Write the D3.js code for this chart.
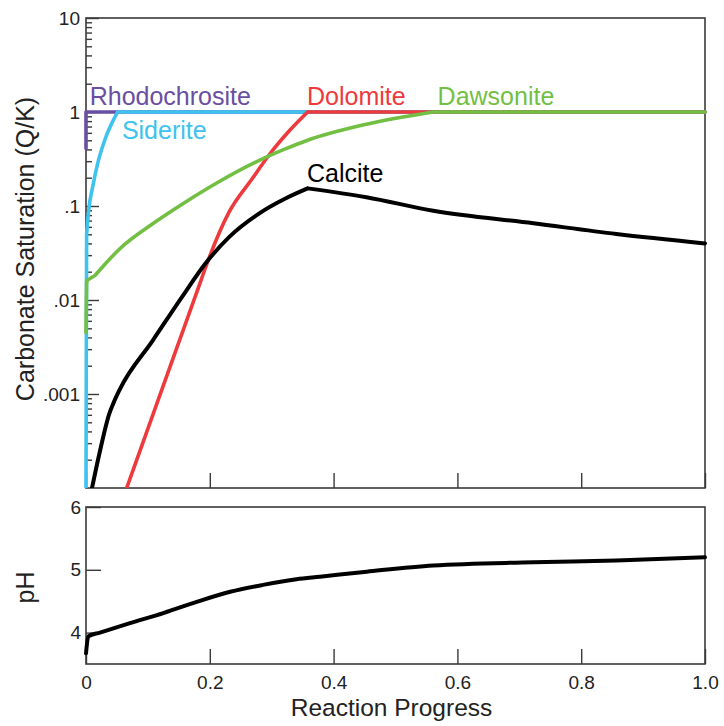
<!DOCTYPE html>
<html>
<head>
<meta charset="utf-8">
<script src="https://cdn.jsdelivr.net/npm/d3@7"></script>
<style>
  html, body { margin: 0; padding: 0; background: #fff; }
  svg { display: block; font-family: "Liberation Sans", Arial, Helvetica, sans-serif; }
</style>
</head>
<body>
<svg id="chart" width="724" height="726"></svg>
<script>
// Reaction progress (x) shared by both panels
const xTicks = [0, 0.2, 0.4, 0.6, 0.8, 1.0];
const xTickLabels = ["0", "0.2", "0.4", "0.6", "0.8", "1.0"];

// Saturation axis (log scale)
const satTicks = [0.001, 0.01, 0.1, 1, 10];
const satTickLabels = [".001", ".01", ".1", "1", "10"];

// pH axis
const phTicks = [4, 5, 6];
const phTickLabels = ["4", "5", "6"];

// Carbonate saturation (Q/K) vs reaction progress
const rhodoX = [0, 0, 1];
const rhodoQK = [0.41, 1, 1];

const sideriteX = [0, 0.001, 0.0043, 0.0108, 0.0189, 0.0323, 0.051, 1];
const sideriteQK = [1e-4, 0.05, 0.09, 0.16, 0.284, 0.546, 1, 1];

const dolomiteX = [0.0657, 0.1077, 0.1454, 0.1858, 0.1939, 0.2315, 0.269, 0.296, 0.3285, 0.358, 1];
const dolomiteQK = [1e-4, 5.93e-4, 2.93e-3, 0.0162, 0.0229, 0.0871, 0.197, 0.351, 0.631, 1, 1];

const dawsoniteX = [0, 0.001, 0.0027, 0.0145, 0.0538, 0.1077, 0.1616, 0.2154, 0.269, 0.323, 0.356, 0.453, 0.561, 1];
const dawsoniteQK = [0.0045, 0.0155, 0.0163, 0.0182, 0.0347, 0.0646, 0.111, 0.182, 0.282, 0.407, 0.495, 0.741, 1, 1];

const calciteX = [0.0097, 0.0215, 0.0377, 0.045, 0.054, 0.108, 0.156, 0.192, 0.2315, 0.28, 0.323, 0.358, 0.453, 0.561, 0.7227, 0.857, 1];
const calciteQK = [1e-4, 2.3e-4, 6.2e-4, 8.2e-4, 1.1e-3, 3.72e-3, 0.011, 0.024, 0.047, 0.0836, 0.121, 0.154, 0.124, 0.089, 0.0655, 0.0504, 0.040];

// pH vs reaction progress
const phX = [0, 0.0037, 0.0226, 0.071, 0.125, 0.179, 0.233, 0.286, 0.34, 0.378, 0.4535, 0.561, 0.7227, 0.857, 1];
const phY = [3.67, 3.94, 4.0, 4.15, 4.31, 4.49, 4.65, 4.76, 4.85, 4.89, 4.97, 5.07, 5.12, 5.15, 5.20];

// kinks: indices where the curve breaks into a new piece (sharp corners)
const series = [
  { name: "Rhodochrosite", x: rhodoX, y: rhodoQK, kinks: [1], color: "#6a4ea2", lx: 0.006, ly: 1.2 },
  { name: "Siderite", x: sideriteX, y: sideriteQK, kinks: [1, 6], color: "#3ec2ee", lx: 0.058, ly: 0.516 },
  { name: "Dolomite", x: dolomiteX, y: dolomiteQK, kinks: [9], color: "#ee3a3c", lx: 0.357, ly: 1.19 },
  { name: "Dawsonite", x: dawsoniteX, y: dawsoniteQK, kinks: [1, 2, 3, 12], color: "#72bf44", lx: 0.568, ly: 1.19 },
  { name: "Calcite", x: calciteX, y: calciteQK, kinks: [11], color: "#000000", lx: 0.357, ly: 0.18 }
];

const svg = d3.select("#chart");
const left = 86, right = 705;
const top1 = 18, bottom1 = 488;
const top2 = 507, bottom2 = 664;
const axisColor = "#3a3a3a";
const labelSize = 25;

const x = d3.scaleLinear().domain([0, 1]).range([left, right]);
const y = d3.scaleLog().domain([1e-4, 10]).range([bottom1, top1]);
const yph = d3.scaleLinear().domain([3.5, 6]).range([bottom2, top2]);

function styleAxis(g) {
  g.selectAll(".domain").remove();
  g.selectAll(".tick line").attr("stroke", axisColor).attr("stroke-width", 1.4);
  g.selectAll(".tick text").attr("fill", "#222").attr("font-size", 19)
    .attr("font-family", "'Liberation Sans', Arial, sans-serif");
}

// ---- upper panel: saturation ----
const minorTicks = [];
for (let e = -4; e < 1; e++) {
  for (let k = 2; k <= 9; k++) minorTicks.push(k * Math.pow(10, e));
}

svg.append("g").attr("transform", `translate(${left},0)`)
  .call(d3.axisLeft(y).tickValues(minorTicks).tickSize(-6).tickFormat(""))
  .call(styleAxis);

svg.append("g").attr("transform", `translate(${left},0)`)
  .call(d3.axisLeft(y).tickValues(satTicks).tickSize(-13).tickPadding(6)
    .tickFormat((d, i) => satTickLabels[i]))
  .call(styleAxis);

svg.append("g").attr("transform", `translate(0,${bottom1})`)
  .call(d3.axisBottom(x).tickValues(xTicks).tickSize(-15).tickFormat(""))
  .call(styleAxis);

svg.append("rect")
  .attr("x", left).attr("y", top1)
  .attr("width", right - left).attr("height", bottom1 - top1)
  .attr("fill", "none").attr("stroke", axisColor).attr("stroke-width", 1.6);

svg.append("clipPath").attr("id", "clipTop")
  .append("rect").attr("x", left - 6).attr("y", top1)
  .attr("width", right - left + 12).attr("height", bottom1 - top1);

const smoothLine = d3.line().x(d => x(d[0])).y(d => y(d[1])).curve(d3.curveMonotoneX);
const lines = svg.append("g").attr("clip-path", "url(#clipTop)");

// Split a series at its kinks and draw each piece as its own smooth run
function piecewisePath(pts, kinks) {
  const cuts = [0, ...kinks, pts.length - 1];
  let d = "";
  for (let i = 0; i < cuts.length - 1; i++) {
    const piece = pts.slice(cuts[i], cuts[i + 1] + 1);
    if (piece.length > 1) d += smoothLine(piece);
  }
  return d;
}

series.forEach(s => {
  const pts = s.x.map((v, i) => [v, s.y[i]]);
  lines.append("path")
    .attr("d", piecewisePath(pts, s.kinks))
    .attr("fill", "none")
    .attr("stroke", s.color)
    .attr("stroke-width", s.name === "Calcite" ? 4 : 3.6)
    .attr("stroke-linejoin", "round")
    .attr("stroke-linecap", "round");
});

series.forEach(s => {
  svg.append("text")
    .attr("x", x(s.lx)).attr("y", y(s.ly))
    .attr("fill", s.color)
    .attr("font-size", labelSize)
    .text(s.name);
});

svg.append("text")
  .attr("transform", `translate(34,${(top1 + bottom1) / 2 - 4}) rotate(-90)`)
  .attr("text-anchor", "middle")
  .attr("font-size", labelSize)
  .attr("fill", "#222")
  .text("Carbonate Saturation (Q/K)");

// ---- lower panel: pH ----
svg.append("g").attr("transform", `translate(${left},0)`)
  .call(d3.axisLeft(yph).tickValues(phTicks).tickSize(-15).tickPadding(5)
    .tickFormat((d, i) => phTickLabels[i]))
  .call(styleAxis);

svg.append("g").attr("transform", `translate(0,${bottom2})`)
  .call(d3.axisBottom(x).tickValues(xTicks).tickSize(-15).tickPadding(12)
    .tickFormat((d, i) => xTickLabels[i]))
  .call(styleAxis);

svg.append("rect")
  .attr("x", left).attr("y", top2)
  .attr("width", right - left).attr("height", bottom2 - top2)
  .attr("fill", "none").attr("stroke", axisColor).attr("stroke-width", 1.6);

const phLine = d3.line().x(d => x(d[0])).y(d => yph(d[1])).curve(d3.curveMonotoneX);
svg.append("path")
  .attr("d", phLine(phX.map((v, i) => [v, phY[i]])))
  .attr("fill", "none")
  .attr("stroke", "#000")
  .attr("stroke-width", 4)
  .attr("stroke-linejoin", "round")
  .attr("stroke-linecap", "round");

svg.append("text")
  .attr("transform", `translate(34,${(top2 + bottom2) / 2 + 2}) rotate(-90)`)
  .attr("text-anchor", "middle")
  .attr("font-size", labelSize)
  .attr("fill", "#222")
  .text("pH");

svg.append("text")
  .attr("x", (left + right) / 2 - 4).attr("y", 716)
  .attr("text-anchor", "middle")
  .attr("font-size", 24.5)
  .attr("fill", "#222")
  .text("Reaction Progress");
</script>
</body>
</html>
